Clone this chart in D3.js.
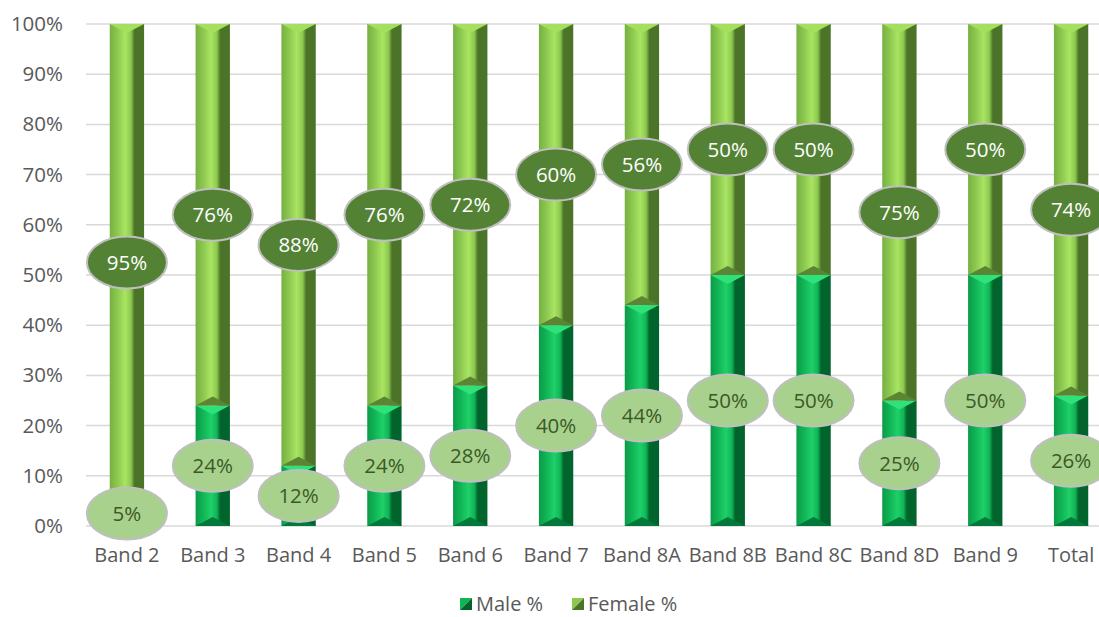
<!DOCTYPE html>
<html>
<head>
<meta charset="utf-8">
<script src="https://cdn.jsdelivr.net/npm/d3@7"></script>
<style>
  body { margin: 0; background: #fff; }
  svg { font-family: "Open Sans", "Noto Sans", sans-serif; }
</style>
</head>
<body>
<div id="chart"></div>
<script>
// chart data
var categories = ['Band 2', 'Band 3', 'Band 4', 'Band 5', 'Band 6', 'Band 7',
                  'Band 8A', 'Band 8B', 'Band 8C', 'Band 8D', 'Band 9', 'Total'];
var malePct = [5, 24, 12, 24, 28, 40, 44, 50, 50, 25, 50, 26];
var femalePct = [95, 76, 88, 76, 72, 60, 56, 50, 50, 75, 50, 74];
var yTicks = [0, 10, 20, 30, 40, 50, 60, 70, 80, 90, 100];
var seriesNames = ['Male %', 'Female %'];

var width = 1099, height = 617;
var margins = { left: 84, right: -15, top: 24, bottom: 91 };
var innerW = width - margins.left - margins.right;
var innerH = height - margins.top - margins.bottom;
var fontFamily = '"Open Sans", "Noto Sans", sans-serif';

var svg = d3.select('#chart').append('svg')
            .attr('width', width)
            .attr('height', height);

// colour sets for the bevelled look: left, mid, highlight, right, top cap, bottom cap
var palettes = [
  { left: '#0c9a48', mid: '#10b556', hi: '#1fd068', right: '#00642c', top: '#2ee27a', bottom: '#00793a', label: '#a9d18e', text: '#3a5a25' },
  { left: '#76b043', mid: '#8cc84f', hi: '#a9e462', right: '#4c7429', top: '#a4df5e', bottom: '#5b8434', label: '#548235', text: '#ffffff' }
];

var defs = svg.append('defs');
palettes.forEach(function(p, i) {
  var g = defs.append('linearGradient').attr('id', 'grad' + i)
              .attr('x1', 0).attr('x2', 1).attr('y1', 0).attr('y2', 0);
  g.append('stop').attr('offset', '0%').attr('stop-color', p.left);
  g.append('stop').attr('offset', '22%').attr('stop-color', p.mid);
  g.append('stop').attr('offset', '45%').attr('stop-color', p.hi);
  g.append('stop').attr('offset', '62%').attr('stop-color', p.mid);
  g.append('stop').attr('offset', '72%').attr('stop-color', p.right);
  g.append('stop').attr('offset', '100%').attr('stop-color', p.right);
});

var x = d3.scaleBand().domain(categories).range([0, innerW]).paddingInner(0.6).paddingOuter(0.3);
var y = d3.scaleLinear().domain([0, 100]).range([innerH, 0]);

var main = svg.append('g').attr('transform', 'translate(' + margins.left + ',' + margins.top + ')');

// grid lines
main.append('g').selectAll('line').data(yTicks).enter().append('line')
    .attr('x1', 2).attr('x2', innerW)
    .attr('y1', function(d) { return y(d); })
    .attr('y2', function(d) { return y(d); })
    .style('stroke', '#d9d9d9').style('stroke-width', 1.5);

// y axis labels
var yAxis = d3.axisLeft(y).tickValues(yTicks).tickSize(0).tickPadding(21)
              .tickFormat(function(d) { return d + '%'; });
main.append('g').call(yAxis)
    .call(function(g) { g.select('.domain').remove(); })
    .selectAll('text').style('font-size', '20.5px').style('fill', '#595959')
    .style('font-family', fontFamily);

// x axis labels
var xAxis = d3.axisBottom(x).tickSize(0).tickPadding(22);
main.append('g').attr('transform', 'translate(0,' + innerH + ')').call(xAxis)
    .call(function(g) { g.select('.domain').remove(); })
    .selectAll('text').style('font-size', '20px').style('fill', '#595959')
    .style('font-family', fontFamily);

// stacked segments
var stackData = categories.map(function(c, i) {
  return { cat: c, segs: [
    { s: 0, y0: 0, y1: malePct[i], v: malePct[i] },
    { s: 1, y0: malePct[i], y1: malePct[i] + femalePct[i], v: femalePct[i] }
  ]};
});

var bars = main.append('g');
stackData.forEach(function(d) {
  var bx = x(d.cat), bw = x.bandwidth();
  d.segs.forEach(function(s) {
    var p = palettes[s.s];
    var top = y(s.y1), bot = y(s.y0), h = bot - top;
    var depth = Math.min(9, h / 2);
    var g = bars.append('g');
    g.append('rect').attr('x', bx).attr('y', top).attr('width', bw).attr('height', h)
     .style('fill', 'url(#grad' + s.s + ')');
    g.append('path')
     .attr('d', 'M' + bx + ',' + top + 'L' + (bx + bw) + ',' + top + 'L' + (bx + bw / 2) + ',' + (top + depth) + 'Z')
     .style('fill', p.top);
    g.append('path')
     .attr('d', 'M' + bx + ',' + bot + 'L' + (bx + bw) + ',' + bot + 'L' + (bx + bw / 2) + ',' + (bot - depth) + 'Z')
     .style('fill', p.bottom);
  });
});

// value labels in ellipses
var labels = main.append('g');
stackData.forEach(function(d) {
  var cx = x(d.cat) + x.bandwidth() / 2;
  d.segs.forEach(function(s) {
    var p = palettes[s.s];
    var cy = y((s.y0 + s.y1) / 2);
    labels.append('ellipse').attr('cx', cx).attr('cy', cy).attr('rx', 40).attr('ry', 26)
          .style('fill', p.label).style('stroke', '#bfbfbf').style('stroke-width', 2);
    labels.append('text').attr('x', cx).attr('y', cy).attr('dy', '0.36em')
          .attr('text-anchor', 'middle').style('font-size', '20.5px').style('fill', p.text)
          .text(s.v + '%');
  });
});

// legend
var legend = svg.append('g').attr('transform', 'translate(460,604)');
var legendX = [0, 112];
seriesNames.forEach(function(n, i) {
  var p = palettes[i];
  var lg = legend.append('g').attr('transform', 'translate(' + legendX[i] + ',0)');
  lg.append('path').attr('d', 'M0,-6L12,-6L0,6Z').style('fill', i === 0 ? '#10b556' : '#8cc84f');
  lg.append('path').attr('d', 'M12,-6L12,6L0,6Z').style('fill', p.right);
  lg.append('text').attr('x', 16).attr('dy', '0.35em').style('font-size', '20px')
    .style('fill', '#595959').text(n);
});
</script>
</body>
</html>
